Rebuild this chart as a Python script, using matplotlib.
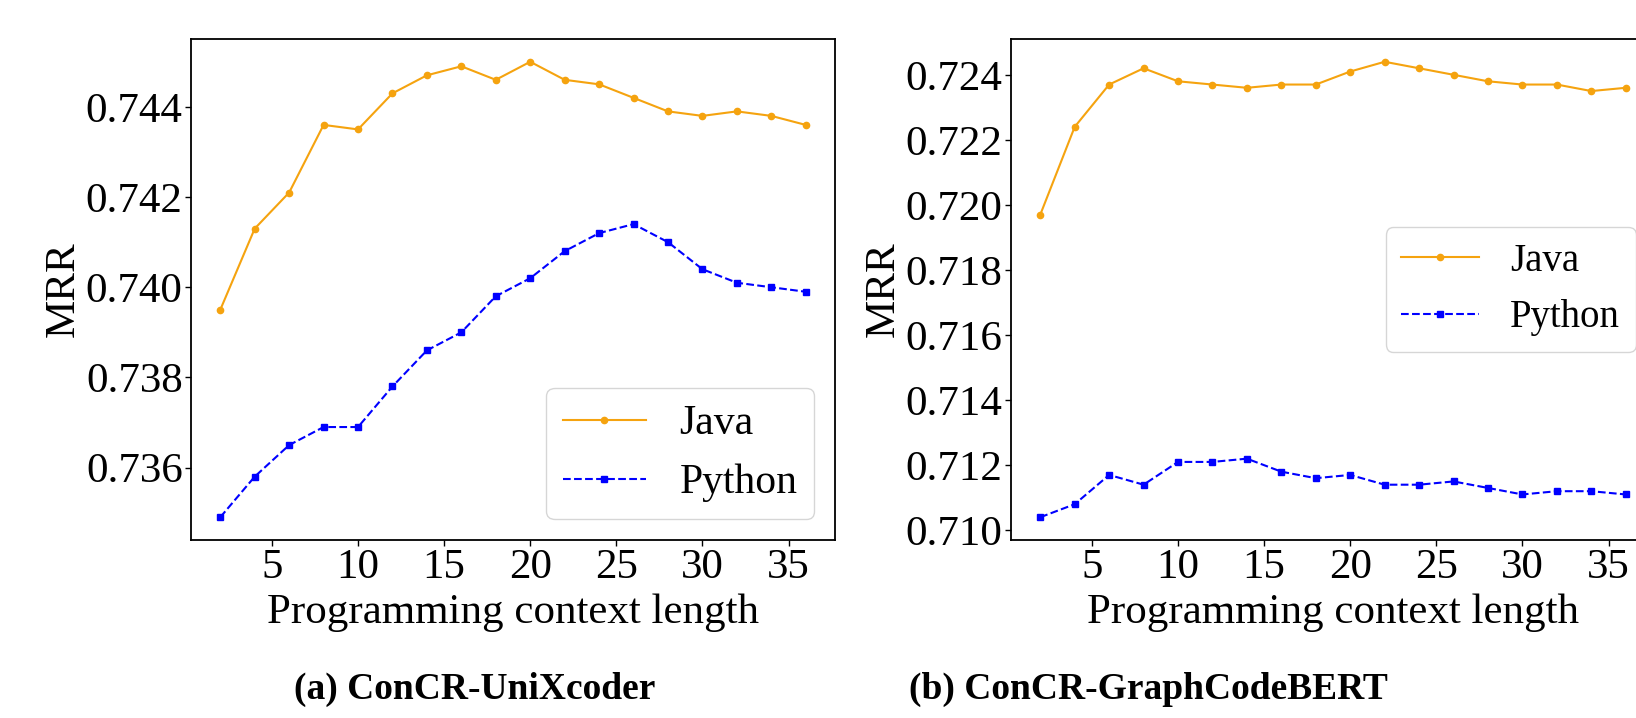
import matplotlib
matplotlib.use("Agg")
import matplotlib.pyplot as plt

plt.rcParams['font.family'] = ['Liberation Serif', 'DejaVu Serif']

context_len = [2, 4, 6, 8, 10, 12, 14, 16, 18, 20, 22, 24, 26, 28, 30, 32, 34, 36]

# (a) ConCR-UniXcoder
uni_java = [0.7395, 0.7413, 0.7421, 0.7436, 0.7435, 0.7443, 0.7447, 0.7449, 0.7446,
            0.7450, 0.7446, 0.7445, 0.7442, 0.7439, 0.7438, 0.7439, 0.7438, 0.7436]
uni_python = [0.7349, 0.7358, 0.7365, 0.7369, 0.7369, 0.7378, 0.7386, 0.7390, 0.7398,
              0.7402, 0.7408, 0.7412, 0.7414, 0.7410, 0.7404, 0.7401, 0.7400, 0.7399]

# (b) ConCR-GraphCodeBERT
gcb_java = [0.7197, 0.7224, 0.7237, 0.7242, 0.7238, 0.7237, 0.7236, 0.7237, 0.7237,
            0.7241, 0.7244, 0.7242, 0.7240, 0.7238, 0.7237, 0.7237, 0.7235, 0.7236]
gcb_python = [0.7104, 0.7108, 0.7117, 0.7114, 0.7121, 0.7121, 0.7122, 0.7118, 0.7116,
              0.7117, 0.7114, 0.7114, 0.7115, 0.7113, 0.7111, 0.7112, 0.7112, 0.7111]

uni_ticks = [0.736, 0.738, 0.740, 0.742, 0.744]
gcb_ticks = [0.710, 0.712, 0.714, 0.716, 0.718, 0.720, 0.722, 0.724]
captions = ["(a) ConCR-UniXcoder", "(b) ConCR-GraphCodeBERT"]

W, H = 1636, 718
fig = plt.figure(figsize=(W / 100, H / 100), dpi=100)

# second panel runs past the right edge, as in the cropped original
ax_w = 644 / W
ax_b = (H - 540) / H
ax_h = 501 / H
ax1 = fig.add_axes([191 / W, ax_b, ax_w, ax_h])
ax2 = fig.add_axes([1011 / W, ax_b, ax_w, ax_h])

fs = 31


def draw_panel(ax, java, python, yticks, legend_loc, legend_fs):
    ax.plot(context_len, java, color="#F5A30F", linestyle="-", linewidth=1.5,
            marker=".", markersize=9, label="Java")
    ax.plot(context_len, python, color="blue", linestyle="--", linewidth=1.5,
            marker="s", markersize=5, label="Python")
    ax.set_xticks([5, 10, 15, 20, 25, 30, 35])
    ax.set_yticks(yticks)
    ax.set_yticklabels([f"{t:.3f}" for t in yticks])
    ax.tick_params(labelsize=fs, width=1.0, length=4, pad=2)
    ax.set_xlabel("Programming context length", fontsize=fs, labelpad=5)
    ax.set_ylabel("MRR", fontsize=fs, labelpad=2)
    for s in ax.spines.values():
        s.set_linewidth(1.3)
    ax.legend(loc=legend_loc, fontsize=legend_fs, handlelength=2.0)


draw_panel(ax1, uni_java, uni_python, uni_ticks, "lower right", 30)
draw_panel(ax2, gcb_java, gcb_python, gcb_ticks, "center right", 28)

fig.text(475 / W, (H - 689) / H, captions[0], ha="center", va="center",
         fontsize=27, fontweight="bold")
fig.text(1148 / W, (H - 689) / H, captions[1], ha="center", va="center",
         fontsize=27, fontweight="bold")

fig.savefig("out.png", dpi=100)
